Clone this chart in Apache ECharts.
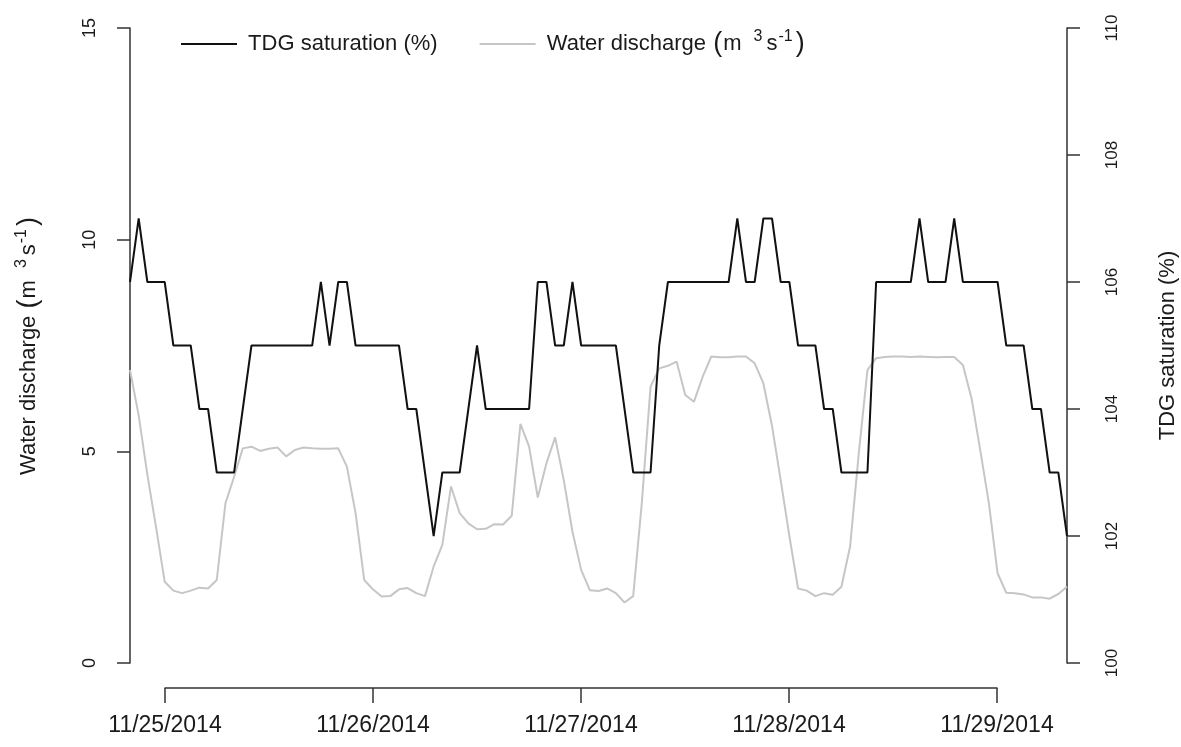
<!DOCTYPE html>
<html>
<head>
<meta charset="utf-8">
<script src="https://cdn.jsdelivr.net/npm/echarts@6/dist/echarts.min.js"></script>
<style>
html,body{margin:0;padding:0;background:#fff;overflow:hidden;}
#chart{width:1181px;height:747px;}
</style>
</head>
<body>
<div id="chart"></div>
<script>
// Hourly samples from 11/24/2014 20:00 (hour -4 relative to 11/25 00:00) to 11/29/2014 08:00
const firstHour = -4;
const tdgSaturation = [
  106,107,106,106,106,105,105,105,104,104,
  103,103,103,104,105,105,105,105,105,105,
  105,105,106,105,106,106,105,105,105,105,
  105,105,104,104,103,102,103,103,103,104,
  105,104,104,104,104,104,104,106,106,105,
  105,106,105,105,105,105,105,104,103,103,
  103,105,106,106,106,106,106,106,106,106,
  107,106,106,107,107,106,106,105,105,105,
  104,104,103,103,103,103,106,106,106,106,
  106,107,106,106,106,107,106,106,106,106,
  106,105,105,105,104,104,103,103,102
];
const waterDischarge = [
  6.92,5.85,4.45,3.21,1.92,1.71,1.65,1.71,1.78,1.76,
  1.96,3.77,4.40,5.07,5.11,5.01,5.06,5.09,4.88,5.03,
  5.09,5.07,5.06,5.06,5.07,4.64,3.54,1.96,1.74,1.57,
  1.58,1.74,1.77,1.65,1.58,2.28,2.79,4.17,3.54,3.30,
  3.16,3.17,3.28,3.27,3.48,5.65,5.11,3.91,4.72,5.33,
  4.32,3.10,2.20,1.72,1.70,1.76,1.65,1.43,1.58,3.80,
  6.53,6.96,7.02,7.12,6.33,6.17,6.76,7.24,7.22,7.22,
  7.24,7.24,7.08,6.61,5.60,4.32,3.00,1.76,1.71,1.58,
  1.65,1.61,1.80,2.75,4.95,6.92,7.20,7.23,7.24,7.24,
  7.23,7.24,7.23,7.22,7.23,7.23,7.04,6.25,5.03,3.77,
  2.12,1.66,1.65,1.62,1.55,1.55,1.52,1.63,1.80
];
const dateLabels = ['11/25/2014','11/26/2014','11/27/2014','11/28/2014','11/29/2014'];
const leftTicks = [0,5,10,15];
const rightTicks = [100,102,104,106,108,110];

const FONT = "'Liberation Sans',Arial,sans-serif";
const INK = '#1a1a1a';
const AX = '#333333';

const tdgData = tdgSaturation.map((v,i)=>[firstHour+i, v]);
const qData = waterDischarge.map((v,i)=>[firstHour+i, v]);

const supRich = {
  base:{fontSize:22, fontFamily:FONT, color:INK, lineHeight:30, verticalAlign:'middle'},
  par:{fontSize:27, fontFamily:FONT, color:INK, lineHeight:30, verticalAlign:'middle', padding:[0,1,0,1]},
  supA:{fontSize:16, fontFamily:FONT, color:INK, lineHeight:15, verticalAlign:'top', padding:[0,4,0,6]},
  supB:{fontSize:16, fontFamily:FONT, color:INK, lineHeight:15, verticalAlign:'top', padding:[0,2,0,1]}
};
const dischargeLabel = '{base|Water discharge }{par|(}{base|m }{supA|3}{base|s}{supB|-1}{par|)}';

const chart = echarts.init(document.getElementById('chart'), null, {renderer:'canvas'});
chart.setOption({
  animation:false,
  backgroundColor:'#ffffff',
  textStyle:{fontFamily:FONT},
  legend:{
    left:176, top:24,
    icon:'rect', itemWidth:56, itemHeight:2, itemGap:42,
    data:['TDG saturation (%)','Water discharge'],
    formatter:function(name){
      if(name==='Water discharge') return '{base| }' + dischargeLabel;
      return '{base| '+name+'}';
    },
    textStyle:{fontFamily:FONT, fontSize:22, color:INK, rich:supRich}
  },
  grid:[
    {left:130, right:114, top:28, bottom:84, containLabel:false, outerBoundsMode:'none'},
    {left:165, right:184, top:687, height:1, containLabel:false, outerBoundsMode:'none'}
  ],
  xAxis:[
    {type:'value', gridIndex:0, min:firstHour, max:firstHour+tdgSaturation.length-1, show:false},
    {type:'value', gridIndex:1, min:0, max:96, interval:24, position:'bottom',
     axisLine:{show:true, onZero:false, lineStyle:{color:AX, width:1.5}},
     axisTick:{show:true, length:15, lineStyle:{color:AX, width:1.5}},
     splitLine:{show:false},
     axisLabel:{margin:26, fontSize:23, color:INK, fontFamily:FONT,
       formatter:function(v){return dateLabels[Math.round(v/24)];}}
    }
  ],
  yAxis:[
    {type:'value', gridIndex:0, min:leftTicks[0], max:leftTicks[leftTicks.length-1], interval:5, position:'left',
     name:dischargeLabel,
     nameLocation:'middle', nameGap:86, nameRotate:90,
     nameTextStyle:{fontFamily:FONT, fontSize:22, color:INK, rich:supRich},
     axisLine:{show:true, onZero:false, lineStyle:{color:AX, width:1.5}},
     axisTick:{show:true, length:13, lineStyle:{color:AX, width:1.5}},
     splitLine:{show:false},
     axisLabel:{rotate:90, margin:31, fontSize:18, color:INK, fontFamily:FONT}
    },
    {type:'value', gridIndex:0, min:rightTicks[0], max:rightTicks[rightTicks.length-1], interval:2, position:'right',
     name:'TDG saturation (%)', nameLocation:'middle', nameGap:90, nameRotate:90,
     nameTextStyle:{fontFamily:FONT, fontSize:22, color:INK},
     axisLine:{show:true, onZero:false, lineStyle:{color:AX, width:1.5}},
     axisTick:{show:true, length:13, lineStyle:{color:AX, width:1.5}},
     splitLine:{show:false},
     axisLabel:{rotate:90, margin:37, fontSize:17, color:INK, fontFamily:FONT}
    },
    {type:'value', gridIndex:1, min:0, max:1, show:false}
  ],
  series:[
    {name:'TDG saturation (%)', type:'line', xAxisIndex:0, yAxisIndex:1, data:tdgData,
     symbol:'none', lineStyle:{color:'#111111', width:2}, itemStyle:{color:'#111111'}, z:3},
    {name:'Water discharge', type:'line', xAxisIndex:0, yAxisIndex:0, data:qData,
     symbol:'none', lineStyle:{color:'#c6c6c6', width:2}, itemStyle:{color:'#c6c6c6'}, z:2}
  ]
});
</script>
</body>
</html>
